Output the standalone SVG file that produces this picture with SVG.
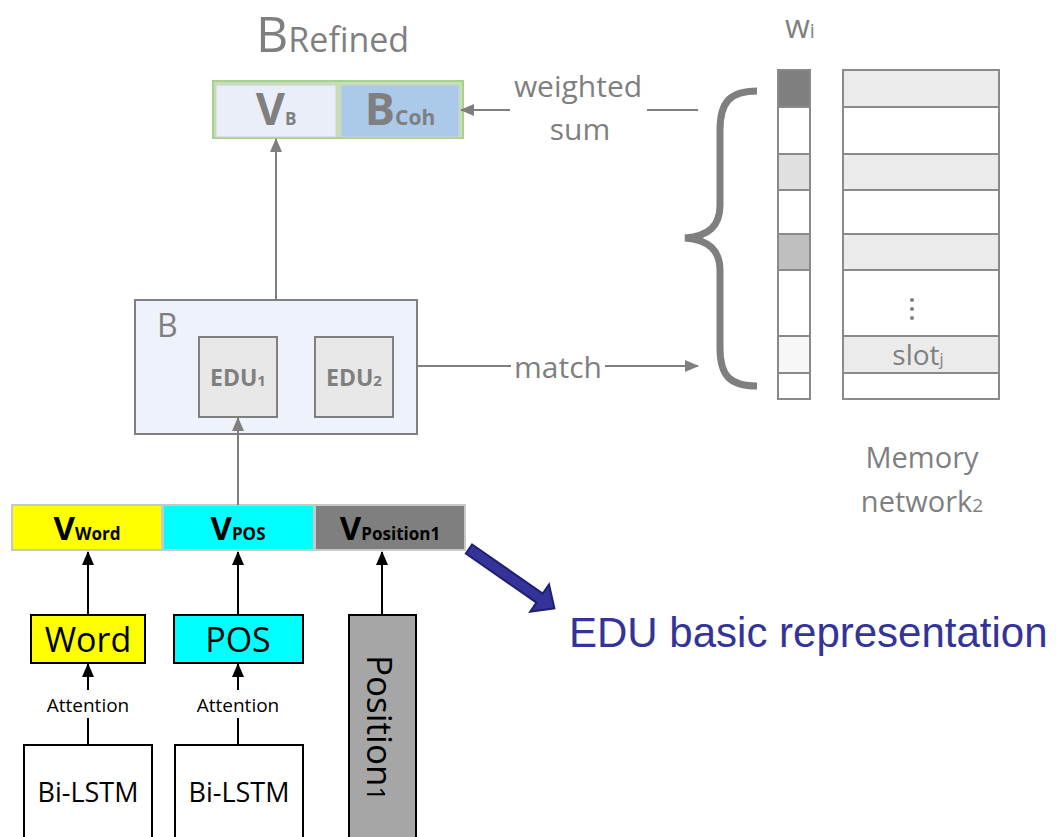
<svg xmlns="http://www.w3.org/2000/svg" width="1056" height="837" viewBox="0 0 1056 837">
<defs>
<style>
.g{font-family:"Open Sans","Liberation Sans",sans-serif;fill:#7f7f7f}
.k{font-family:"Open Sans","Liberation Sans",sans-serif;fill:#000}
.b{font-weight:bold}
.gl{stroke:#7f7f7f;stroke-width:2;fill:none}
.kl{stroke:#000;stroke-width:2;fill:none}
.mem{stroke:#8a8a8a;stroke-width:2}
</style>
<marker id="ag" viewBox="0 0 14 12" refX="13" refY="6" markerWidth="14" markerHeight="12" markerUnits="userSpaceOnUse" orient="auto"><path d="M0,0 L14,6 L0,12 Z" fill="#7f7f7f"/></marker>
<marker id="ak" viewBox="0 0 14 12" refX="13" refY="6" markerWidth="14" markerHeight="12" markerUnits="userSpaceOnUse" orient="auto"><path d="M0,0 L14,6 L0,12 Z" fill="#000"/></marker>
</defs>
<rect width="1056" height="837" fill="#fff"/>

<g id="title">
<text class="g" x="256" y="52" font-size="50">B<tspan font-size="34">Refined</tspan></text>
</g>

<g id="brefined">
<rect x="213" y="81" width="250" height="57" fill="#c5e0b4" stroke="#a9d18e" stroke-width="2"/>
<rect x="216" y="85" width="120" height="52" fill="#eaeef8" stroke="#d0d0d0" stroke-width="1"/>
<rect x="341" y="85" width="118" height="52" fill="#abc9e8" stroke="#d0d0d0" stroke-width="1"/>
<text class="g b" x="276" y="125" font-size="45" text-anchor="middle">V<tspan font-size="17">B</tspan></text>
<text class="g b" x="400" y="125" font-size="45" text-anchor="middle">B<tspan font-size="21">Coh</tspan></text>
</g>

<g id="bbox">
<rect x="135" y="300" width="282" height="134" fill="#eef2fa" stroke="#7f7f7f" stroke-width="2"/>
<text class="g" x="157" y="337" font-size="32">B</text>
</g>
<g id="edu1">
<rect x="199" y="337" width="78" height="80" fill="#e8e8e8" stroke="#7f7f7f" stroke-width="2"/>
<text class="g b" x="238" y="386" font-size="23" text-anchor="middle">EDU<tspan font-size="15">1</tspan></text>
</g>
<g id="edu2">
<rect x="315" y="337" width="78" height="80" fill="#e8e8e8" stroke="#7f7f7f" stroke-width="2"/>
<text class="g b" x="354" y="386" font-size="23" text-anchor="middle">EDU<tspan font-size="15">2</tspan></text>
</g>

<g id="weights">
<text class="g" x="785" y="38" font-size="32">w<tspan font-size="20">i</tspan></text>
<rect x="778" y="70" width="32" height="329" fill="#fff" class="mem"/>
<rect x="778" y="70" width="32" height="37" fill="#7f7f7f" class="mem"/>
<rect x="778" y="154" width="32" height="36" fill="#e0e0e0" class="mem"/>
<rect x="778" y="234" width="32" height="36" fill="#bfbfbf" class="mem"/>
<rect x="778" y="336" width="32" height="37" fill="#f7f7f7" class="mem"/>
</g>

<g id="memory">
<rect x="843" y="70" width="156" height="329" fill="#fff" class="mem"/>
<rect x="843" y="70" width="156" height="37" fill="#ebebeb" class="mem"/>
<rect x="843" y="154" width="156" height="36" fill="#ebebeb" class="mem"/>
<rect x="843" y="234" width="156" height="36" fill="#ebebeb" class="mem"/>
<rect x="843" y="336" width="156" height="37" fill="#ebebeb" class="mem"/>
<circle cx="912" cy="300" r="2" fill="#7f7f7f"/>
<circle cx="912" cy="309" r="2" fill="#7f7f7f"/>
<circle cx="912" cy="318" r="2" fill="#7f7f7f"/>
<text class="g" x="918" y="365" font-size="28" text-anchor="middle">slot<tspan font-size="16">j</tspan></text>
<text class="g" x="922" y="468" font-size="29" text-anchor="middle">Memory</text>
<text class="g" x="922" y="512" font-size="29" text-anchor="middle">network<tspan font-size="19">2</tspan></text>
</g>

<g id="brace">
<path d="M757,91 C730,91 720,102 720,130 L720,205 C720,226 709,236 685,238 C709,240 720,250 720,271 L720,348 C720,376 730,386 757,386" fill="none" stroke="#7f7f7f" stroke-width="7"/>
</g>

<g id="vbar">
<rect x="12" y="505" width="150" height="45" fill="#ffff00" stroke="#c8c8c8" stroke-width="2"/>
<rect x="163" y="505" width="151" height="45" fill="#00ffff" stroke="#c8c8c8" stroke-width="2"/>
<rect x="315" y="505" width="150" height="45" fill="#7f7f7f" stroke="#c8c8c8" stroke-width="2"/>
<text class="k b" x="87" y="540" font-size="33" text-anchor="middle">V<tspan font-size="17">Word</tspan></text>
<text class="k b" x="238" y="540" font-size="33" text-anchor="middle">V<tspan font-size="17">POS</tspan></text>
<text class="k b" x="390" y="540" font-size="33" text-anchor="middle">V<tspan font-size="17">Position1</tspan></text>
</g>

<g id="word">
<rect x="31" y="615" width="114" height="48" fill="#ffff00" stroke="#000" stroke-width="2"/>
<text class="k" x="88" y="652" font-size="34" text-anchor="middle">Word</text>
</g>
<g id="pos">
<rect x="174" y="615" width="129" height="48" fill="#00ffff" stroke="#000" stroke-width="2"/>
<text class="k" x="238" y="652" font-size="34" text-anchor="middle">POS</text>
</g>
<g id="position1">
<rect x="349" y="615" width="67" height="230" fill="#a6a6a6" stroke="#000" stroke-width="2"/>
<text class="k" transform="translate(367,0) rotate(90)" x="655" y="0" font-size="35">Position<tspan font-size="25">1</tspan></text>
</g>
<g id="bilstm1">
<rect x="24" y="745" width="128" height="100" fill="#fff" stroke="#000" stroke-width="2"/>
<text class="k" x="88" y="802" font-size="27" text-anchor="middle">Bi-LSTM</text>
</g>
<g id="bilstm2">
<rect x="175" y="745" width="128" height="100" fill="#fff" stroke="#000" stroke-width="2"/>
<text class="k" x="239" y="802" font-size="27" text-anchor="middle">Bi-LSTM</text>
</g>

<g id="connectors">
<line class="gl" x1="276" y1="299" x2="276" y2="139" marker-end="url(#ag)"/>
<line class="gl" x1="238" y1="505" x2="238" y2="418" marker-end="url(#ag)"/>
<line class="gl" x1="417" y1="366" x2="511" y2="366"/>
<line class="gl" x1="605" y1="366" x2="698" y2="366" marker-end="url(#ag)"/>
<text class="g" x="558" y="378" font-size="30" text-anchor="middle">match</text>
<line class="gl" x1="510" y1="110" x2="461" y2="110" marker-end="url(#ag)"/>
<line class="gl" x1="647" y1="110" x2="698" y2="110"/>
<text class="g" x="578" y="97" font-size="30" text-anchor="middle">weighted</text>
<text class="g" x="580" y="140" font-size="30" text-anchor="middle">sum</text>
<line class="kl" x1="88" y1="615" x2="88" y2="552" marker-end="url(#ak)"/>
<line class="kl" x1="238" y1="615" x2="238" y2="552" marker-end="url(#ak)"/>
<line class="kl" x1="382" y1="615" x2="382" y2="552" marker-end="url(#ak)"/>
<line class="kl" x1="88" y1="745" x2="88" y2="718"/>
<line class="kl" x1="88" y1="690" x2="88" y2="664" marker-end="url(#ak)"/>
<line class="kl" x1="238" y1="745" x2="238" y2="718"/>
<line class="kl" x1="238" y1="690" x2="238" y2="664" marker-end="url(#ak)"/>
<text class="k" x="88" y="712" font-size="19" text-anchor="middle">Attention</text>
<text class="k" x="238" y="712" font-size="19" text-anchor="middle">Attention</text>
<path transform="translate(469,549) rotate(34.8)" d="M0,-5.5 L86,-5.5 L86,-16.5 L104,0 L86,16.5 L86,5.5 L0,5.5 Z" fill="#33339a" stroke="#202070" stroke-width="2"/>
</g>

<g id="label">
<text x="569" y="647" font-family="Liberation Sans, Arial, sans-serif" font-size="42" fill="#333399">EDU basic representation</text>
</g>
</svg>
